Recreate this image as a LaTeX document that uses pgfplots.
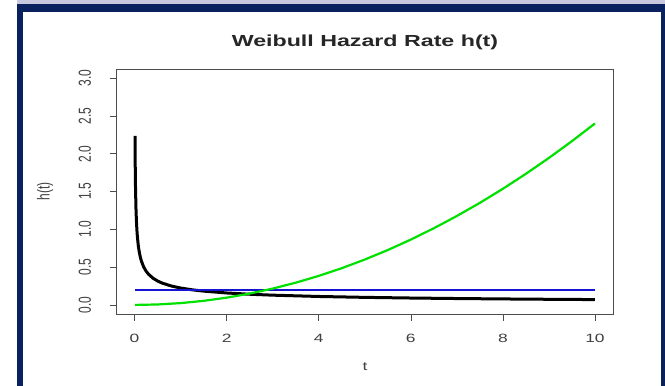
\documentclass[border=0pt]{standalone}
\usepackage{pgfplots}
\pgfplotsset{compat=1.18}
\usepackage{fontspec}
\setmainfont{Liberation Sans}
\usepackage{graphicx}
\definecolor{navy}{RGB}{10,33,96}
\definecolor{lav}{RGB}{200,200,225}
\definecolor{rgreen}{RGB}{0,225,0}
\definecolor{rblue}{RGB}{20,20,210}
\newcommand\sx[1]{\scalebox{1.45}[1]{#1}}
\newcommand\sy[1]{\scalebox{1}[1.45]{#1}}
\begin{document}
\begin{tikzpicture}
\useasboundingbox (0,0) rectangle (665pt,386pt);
\fill[white] (0,0) rectangle (665pt,386pt);
\fill[lav] (17pt,382pt) rectangle (665pt,386pt);
\fill[navy] (17pt,374pt) rectangle (665pt,382pt);
\fill[navy] (17pt,0) rectangle (23pt,382pt);
\fill[navy] (661pt,0) rectangle (665pt,382pt);
\begin{axis}[
  at={(116.6pt,72pt)}, anchor=south west,
  width=496.8pt, height=245pt, scale only axis,
  xmin=-0.39, xmax=10.4, ymin=-0.12, ymax=3.12,
  xtick={0,2,4,6,8,10},
  xticklabels={\sx{0},\sx{2},\sx{4},\sx{6},\sx{8},\sx{10}},
  ytick={0,0.5,1,1.5,2,2.5,3},
  yticklabels={\sy{0.0},\sy{0.5},\sy{1.0},\sy{1.5},\sy{2.0},\sy{2.5},\sy{3.0}},
  tick align=outside, xtick pos=bottom, ytick pos=left,
  major tick length=7pt,
  axis line style={black!70, line width=0.6pt},
  tick style={black!70, line width=0.6pt},
  xticklabel style={font=\fontsize{12}{14}\selectfont, text=black!75, anchor=center, inner sep=0pt, yshift=-17pt},
  yticklabel style={font=\fontsize{12}{14}\selectfont, text=black!75, anchor=center, inner sep=0pt, xshift=-24.6pt, rotate=90},
  title={\sx{\bfseries Weibull Hazard Rate h(t)}},
  title style={at={(axis description cs:0.5,1.085)}, anchor=center, font=\fontsize{16}{19}\selectfont, text=black!85},
  xlabel={\sx{t}},
  xlabel style={at={(axis description cs:0.5,-0.216)}, anchor=center, font=\fontsize{12}{14}\selectfont, text=black!75},
  ylabel={\sy{h(t)}},
  ylabel style={at={(axis description cs:-0.144,0.5)}, anchor=center, font=\fontsize{12}{14}\selectfont, text=black!75},
  clip=true,
]
\addplot[black, line width=3pt, line join=round] coordinates {
(0.01,2.2361) (0.015,1.8257) (0.02,1.5811) (0.03,1.2910) (0.04,1.1180) (0.05,1.0000)
(0.06,0.9129) (0.08,0.7906) (0.1,0.7071) (0.125,0.6325) (0.15,0.5774) (0.2,0.5)
(0.25,0.4472) (0.3,0.4082) (0.4,0.3536) (0.5,0.3162) (0.6,0.2887) (0.8,0.25)
(1,0.2236) (1.25,0.2) (1.5,0.1826) (2,0.1581) (2.5,0.1414) (3,0.1291) (4,0.1118)
(5,0.1) (6,0.0913) (7,0.0845) (8,0.0791) (9,0.0745) (10,0.0707)
};
\addplot[rblue, line width=2pt] coordinates {(0.01,0.2) (10,0.2)};
\addplot[rgreen, line width=2.2pt] coordinates {
(0.01,0) (0.5,0.006) (1,0.024) (1.5,0.054) (2,0.096) (2.5,0.15) (3,0.216)
(3.5,0.294) (4,0.384) (4.5,0.486) (5,0.6) (5.5,0.726) (6,0.864) (6.5,1.014)
(7,1.176) (7.5,1.35) (8,1.536) (8.5,1.734) (9,1.944) (9.5,2.166) (10,2.4)
};
\end{axis}
\end{tikzpicture}
\end{document}
